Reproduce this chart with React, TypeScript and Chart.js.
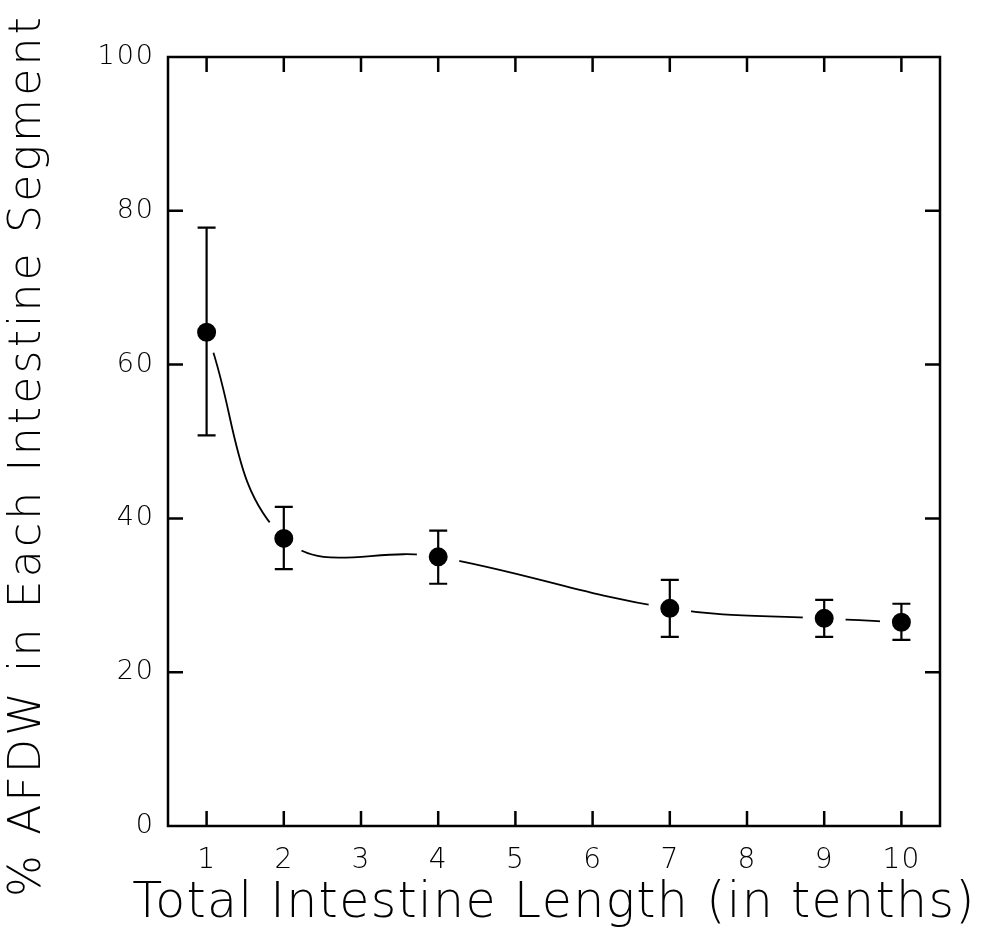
import React, { useEffect, useRef } from 'react';
import { Chart, registerables } from 'chart.js';

Chart.register(...registerables);

const xValues = [1, 2, 4, 7, 9, 10];
const meanValues = [64.2, 37.4, 35.0, 28.3, 27.0, 26.5];
const upperValues = [77.8, 41.5, 38.4, 32.0, 29.4, 28.9];
const lowerValues = [50.8, 33.4, 31.5, 24.6, 24.6, 24.2];
const xTickValues = [1, 2, 3, 4, 5, 6, 7, 8, 9, 10];
const yTickValues = [0, 20, 40, 60, 80, 100];
const xTitle = 'Total Intestine Length (in tenths)';
const yTitle = '% AFDW in Each Intestine Segment';

const frameAndTicks = {
  id: 'frameAndTicks',
  afterDraw(chart: any) {
    const { ctx, chartArea } = chart;
    const { left, right, top, bottom } = chartArea;
    const xs = chart.scales.x;
    const ys = chart.scales.y;
    const len = 15;
    ctx.save();
    ctx.strokeStyle = '#000';
    ctx.lineWidth = 2.5;
    ctx.lineCap = 'butt';
    ctx.strokeRect(left, top, right - left, bottom - top);
    ctx.beginPath();
    xTickValues.forEach((v) => {
      const px = xs.getPixelForValue(v);
      ctx.moveTo(px, bottom);
      ctx.lineTo(px, bottom - len);
      ctx.moveTo(px, top);
      ctx.lineTo(px, top + len);
    });
    yTickValues.forEach((v) => {
      if (v === 0 || v === 100) return;
      const py = ys.getPixelForValue(v);
      ctx.moveTo(left, py);
      ctx.lineTo(left + len, py);
      ctx.moveTo(right, py);
      ctx.lineTo(right - len, py);
    });
    ctx.stroke();
    ctx.restore();
  },
};

const errorBars = {
  id: 'errorBars',
  afterDatasetsDraw(chart: any) {
    const { ctx } = chart;
    const xs = chart.scales.x;
    const ys = chart.scales.y;
    const cap = 9;
    ctx.save();
    ctx.strokeStyle = '#000';
    ctx.lineWidth = 2.2;
    ctx.beginPath();
    xValues.forEach((xv, i) => {
      const px = xs.getPixelForValue(xv);
      const pt = ys.getPixelForValue(upperValues[i]);
      const pb = ys.getPixelForValue(lowerValues[i]);
      ctx.moveTo(px, pt);
      ctx.lineTo(px, pb);
      ctx.moveTo(px - cap, pt);
      ctx.lineTo(px + cap, pt);
      ctx.moveTo(px - cap, pb);
      ctx.lineTo(px + cap, pb);
    });
    ctx.stroke();
    ctx.restore();
  },
};

function wrapSpacing(s: any, titleSpacing: string, labelSpacing: string, dy: number) {
  if (s.__wrapped) return;
  s.__wrapped = true;
  const origTitle = s.drawTitle.bind(s);
  const origLabels = s.drawLabels.bind(s);
  s.drawTitle = (...a: any[]) => {
    const c = s.ctx;
    const prev = c.letterSpacing;
    c.save();
    c.letterSpacing = titleSpacing;
    c.translate(0, dy);
    c.fillText = (t: string, x: number, y: number) =>
      CanvasRenderingContext2D.prototype.fillText.call(c, t, x, y);
    origTitle(...a);
    delete c.fillText;
    c.restore();
    c.letterSpacing = prev;
  };
  s.drawLabels = (...a: any[]) => {
    const c = s.ctx;
    const prev = c.letterSpacing;
    c.letterSpacing = labelSpacing;
    origLabels(...a);
    c.letterSpacing = prev;
  };
}

export default function App() {
  const ref = useRef<HTMLCanvasElement | null>(null);
  useEffect(() => {
    document.body.style.margin = '0';
    if (!ref.current) return;
    const chart = new Chart(ref.current, {
      type: 'line',
      data: {
        datasets: [
          {
            data: xValues.map((x, i) => ({ x, y: meanValues[i] })),
            borderColor: '#000',
            borderWidth: 1.8,
            tension: 0.4,
            pointRadius: 15.5,
            pointBorderWidth: 12,
            pointBackgroundColor: '#000',
            pointBorderColor: '#fff',
            clip: false,
          } as any,
        ],
      },
      options: {
        animation: false,
        responsive: false,
        layout: { padding: { top: 57, right: 45, left: 0, bottom: 0 } },
        plugins: { legend: { display: false }, tooltip: { enabled: false } },
        scales: {
          x: {
            type: 'linear',
            min: 0.5,
            max: 10.5,
            afterBuildTicks: (s: any) => {
              s.ticks = xTickValues.map((v) => ({ value: v }));
            },
            afterFit: (s: any) => {
              s.height = 108;
              wrapSpacing(s, '1.35px', '1px', 0);
            },
            grid: { display: false, drawTicks: false },
            border: { display: false },
            ticks: {
              color: '#000',
              padding: 18,
              font: { family: 'DejaVu Sans', size: 28, weight: '200' as any },
              callback: (v: any) => String(v),
            },
            title: {
              display: true,
              text: xTitle,
              color: '#000',
              font: { family: 'DejaVu Sans', size: 49, weight: '200' as any },
              padding: { top: 0, bottom: 0 },
            },
          },
          y: {
            type: 'linear',
            min: 0,
            max: 100,
            afterBuildTicks: (s: any) => {
              s.ticks = yTickValues.map((v) => ({ value: v }));
            },
            afterFit: (s: any) => {
              s.width = 168;
              wrapSpacing(s, '3.2px', '2px', 14);
            },
            grid: { display: false, drawTicks: false },
            border: { display: false },
            ticks: {
              color: '#000',
              padding: 13,
              font: { family: 'DejaVu Sans', size: 27, weight: '200' as any },
              callback: (v: any) => String(v),
            },
            title: {
              display: true,
              text: yTitle,
              color: '#000',
              font: { family: 'DejaVu Sans', size: 44, weight: '200' as any },
              padding: { top: 2, bottom: 0 },
            },
          },
        },
      },
      plugins: [errorBars, frameAndTicks],
    });
    return () => chart.destroy();
  }, []);
  return (
    <div style={{ width: 985, height: 934, background: '#fff' }}>
      <canvas ref={ref} width={985} height={934} />
    </div>
  );
}
